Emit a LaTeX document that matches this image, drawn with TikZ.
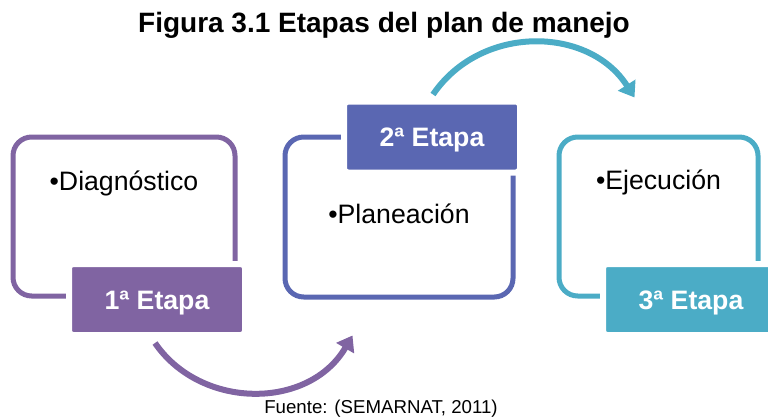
\documentclass[tikz,border=0pt]{standalone}
\usepackage{fontspec}
\setmainfont{Liberation Sans}
\usetikzlibrary{arrows.meta,calc,positioning}
\definecolor{etapaA}{HTML}{8064A2}
\definecolor{etapaB}{HTML}{5A67B2}
\definecolor{etapaC}{HTML}{4BACC6}
\tikzset{stagebox/.style={draw, line width=3.75pt, rounded corners=14pt, minimum height=119.25pt, inner sep=0pt},
  stagetag/.style={draw=white, line width=4.5pt, rounded corners=3pt, minimum width=132pt, minimum height=53.25pt,
    inner sep=0pt, text=white, text height=14.4pt, text depth=0pt, font=\fontsize{20}{24}\selectfont\bfseries},
  stageitem/.style={anchor=base, inner sep=0pt, font=\fontsize{20}{24}\selectfont},
  cyclearrow/.style={-{Triangle[length=11pt,width=15pt]}, line width=4.5pt}}

\begin{document}
\begin{tikzpicture}[x=0.75pt, y=-0.75pt]
  \useasboundingbox (0,0) rectangle (768,418);
  \node[font=\fontsize{21}{25}\selectfont\bfseries, anchor=base] (title) at (384,32) {Figura 3.1 Etapas del plan de manejo};
  % stage outlines
  \node[stagebox, draw=etapaA, minimum width=166.5pt] (box1) at (124,216.5) {};
  \node[stagebox, draw=etapaB, minimum width=171pt, minimum height=120pt] (box2) at (399,217) {};
  \node[stagebox, draw=etapaC, minimum width=149.25pt] (box3) at (658.5,216.5) {};
  \node[stageitem] (item1) at ($(box1.north)+(0,56)$) {•Diagnóstico};
  \node[stageitem] (item2) at ($(box2.north)+(0,89)$) {•Planeación};
  \node[stageitem] (item3) at ($(box3.north)+(0,55)$) {•Ejecución};
  % stage tags
  \node[stagetag, fill=etapaA] (lab1) at (157,299.5) {1ª Etapa};
  \node[stagetag, fill=etapaB] (lab2) at (432,137) {2ª Etapa};
  \node[stagetag, fill=etapaC] (lab3) at (691,299.5) {3ª Etapa};
  % curved arrows
  \coordinate (a1s) at ($(lab1.south)+(-2,5)$);
  \coordinate (a1e) at ($(box2.south west)+(70,36)$);
  \coordinate (a2s) at ($(lab2.north)+(1,-4)$);
  \coordinate (a2e) at ($(box3.north west)+(78,-37)$);
  \draw[cyclearrow, etapaA] (a1s) .. controls (201,410) and (309,410) .. (a1e);
  \draw[cyclearrow, etapaC] (a2s) .. controls (481,24) and (589,26) .. (a2e);
  \node[font=\fontsize{14}{17}\selectfont, anchor=base] (src) at (381,413) {Fuente: (SEMARNAT, 2011)};
\end{tikzpicture}
\end{document}
